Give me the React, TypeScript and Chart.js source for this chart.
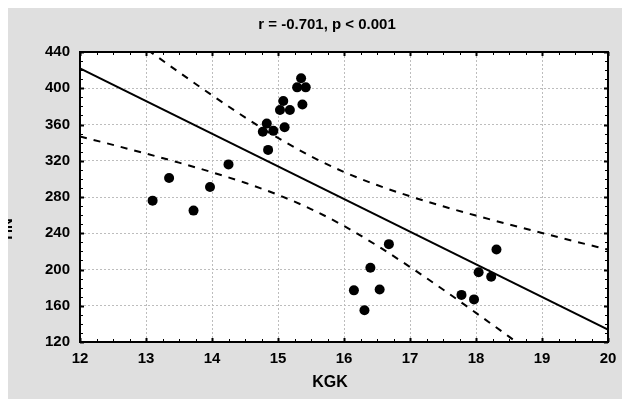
import React, { useEffect, useRef } from "react";
import { Chart, registerables } from "chart.js";

Chart.register(...registerables);

// Scatter data (KGK vs HN)
const kgk = [13.1, 13.35, 13.72, 13.97, 14.25, 14.85, 14.77, 14.83, 14.93, 15.1, 15.03, 15.08, 15.18, 15.37, 15.29, 15.42, 15.35, 16.15, 16.31, 16.4, 16.54, 16.68, 17.78, 17.97, 18.04, 18.23, 18.31];
const hn = [276, 301, 265, 291, 316, 332, 352, 361, 353, 357, 376, 386, 376, 382, 401, 401, 411, 177, 155, 202, 178, 228, 172, 167, 197, 192, 222];

// Regression line (read at the ends of the x range)
const regX = [12, 20];
const regY = [421.8, 133.8];

// Confidence band
const bandX = [12, 12.5, 13, 13.5, 14, 14.5, 15, 15.5, 16, 16.5, 17, 17.5, 18, 18.5, 19, 19.5, 20];
const bandUpper = [496.8, 470.1, 443.7, 417.7, 392.3, 367.9, 345.2, 324.9, 307.6, 293.2, 280.8, 269.7, 259.5, 249.7, 240.3, 231.0, 222.0];
const bandLower = [346.8, 337.5, 327.9, 317.9, 307.3, 295.7, 282.4, 266.7, 248.0, 226.4, 202.8, 177.9, 152.1, 125.9, 99.3, 72.6, 45.6];

const titleText = "r = -0.701, p < 0.001";
const xTitle = "KGK";
const yTitle = "HN";

const X_MIN = 12, X_MAX = 20, X_STEP = 1;
const Y_MIN = 120, Y_MAX = 440, Y_STEP = 40;

const FONT = "'Liberation Sans', Arial, sans-serif";

const framePlugin = {
  id: "frame",
  beforeDraw(chart: any) {
    const { ctx, chartArea: a } = chart;
    ctx.save();
    ctx.fillStyle = "#dfdfdf";
    ctx.fillRect(0, 0, chart.width, chart.height);
    ctx.fillStyle = "#ffffff";
    ctx.fillRect(a.left, a.top, a.right - a.left, a.bottom - a.top);
    ctx.restore();
  },
  afterDatasetsDraw(chart: any) {
    const { ctx, chartArea: a, scales } = chart;
    const xs = scales.x, ys = scales.y;
    ctx.save();
    ctx.strokeStyle = "#000";
    for (let v = X_MIN; v <= X_MAX + 1e-9; v += 0.25) {
      const px = Math.round(xs.getPixelForValue(v)) + 0.5;
      const major = Math.abs(v - Math.round(v)) < 1e-6;
      const len = major ? 4 : 3;
      ctx.lineWidth = major ? 2 : 1;
      ctx.beginPath();
      ctx.moveTo(px, a.bottom);
      ctx.lineTo(px, a.bottom - len);
      ctx.moveTo(px, a.top);
      ctx.lineTo(px, a.top + len);
      ctx.stroke();
    }
    for (let v = Y_MIN; v <= Y_MAX + 1e-9; v += 10) {
      const py = Math.round(ys.getPixelForValue(v)) + 0.5;
      const major = (v - Y_MIN) % Y_STEP === 0;
      const len = major ? 4 : 3;
      ctx.lineWidth = major ? 2 : 1;
      ctx.beginPath();
      ctx.moveTo(a.left, py);
      ctx.lineTo(a.left + len, py);
      ctx.moveTo(a.right, py);
      ctx.lineTo(a.right - len, py);
      ctx.stroke();
    }
    ctx.lineWidth = 2;
    ctx.strokeRect(a.left, a.top, a.right - a.left, a.bottom - a.top);
    ctx.restore();
  },
  afterDraw(chart: any) {
    const { ctx } = chart;
    ctx.save();
    ctx.fillStyle = "#000";
    ctx.textAlign = "center";
    ctx.textBaseline = "middle";
    ctx.font = `bold 15px ${FONT}`;
    ctx.fillText(titleText, 319, 17);
    ctx.font = `bold 16px ${FONT}`;
    ctx.fillText(xTitle, 322, 375);
    ctx.translate(4, 221);
    ctx.rotate(-Math.PI / 2);
    ctx.textBaseline = "alphabetic";
    ctx.font = `bold 15px ${FONT}`;
    ctx.fillText(yTitle, 0, 0);
    ctx.restore();
  },
};

export default function App() {
  const ref = useRef<HTMLCanvasElement | null>(null);
  useEffect(() => {
    document.documentElement.style.overflow = "hidden";
    document.body.style.overflow = "hidden";
    document.body.style.margin = "0";
    if (!ref.current) return;
    const tickFont = { family: FONT, size: 15, weight: "bold" as const };
    const chart = new Chart(ref.current, {
      type: "scatter",
      data: {
        datasets: [
          {
            label: "points",
            data: kgk.map((x, i) => ({ x, y: hn[i] })),
            backgroundColor: "#000",
            borderColor: "#000",
            pointRadius: 5,
            borderWidth: 0,
            showLine: false,
            order: 0,
          },
          {
            label: "regression",
            data: regX.map((x, i) => ({ x, y: regY[i] })),
            showLine: true,
            borderColor: "#000",
            borderWidth: 2,
            pointRadius: 0,
            order: 1,
          },
          {
            label: "upper",
            data: bandX.map((x, i) => ({ x, y: bandUpper[i] })),
            showLine: true,
            borderColor: "#000",
            borderWidth: 2,
            borderDash: [7, 7],
            pointRadius: 0,
            cubicInterpolationMode: "monotone",
            order: 2,
          },
          {
            label: "lower",
            data: bandX.map((x, i) => ({ x, y: bandLower[i] })),
            showLine: true,
            borderColor: "#000",
            borderWidth: 2,
            borderDash: [7, 7],
            pointRadius: 0,
            cubicInterpolationMode: "monotone",
            order: 2,
          },
        ],
      },
      options: {
        animation: false,
        responsive: false,
        layout: { padding: { top: 44, right: 14, left: 0, bottom: 0 } },
        plugins: { legend: { display: false }, title: { display: false }, tooltip: { enabled: false } },
        scales: {
          x: {
            type: "linear",
            min: X_MIN,
            max: X_MAX,
            ticks: { stepSize: X_STEP, font: tickFont, color: "#000", padding: 8 },
            grid: { color: "#bdbdbd", drawTicks: false, lineWidth: 1 },
            border: { display: false, dash: [2, 2] },
            afterFit(scale: any) {
              scale.height = 57;
              scale.paddingLeft = 0;
              scale.paddingRight = 0;
            },
          },
          y: {
            type: "linear",
            min: Y_MIN,
            max: Y_MAX,
            ticks: { stepSize: Y_STEP, font: tickFont, color: "#000", padding: 10 },
            grid: { color: "#bdbdbd", drawTicks: false, lineWidth: 1 },
            border: { display: false, dash: [2, 2] },
            afterFit(scale: any) {
              scale.width = 72;
              scale.paddingTop = 0;
              scale.paddingBottom = 0;
            },
          },
        },
      },
      plugins: [framePlugin],
    });
    return () => chart.destroy();
  }, []);
  return (
    <div style={{ padding: "8px 0 0 8px", width: 622, height: 399, boxSizing: "border-box", overflow: "hidden" }}>
      <canvas ref={ref} width={614} height={391} style={{ display: "block" }} />
    </div>
  );
}
